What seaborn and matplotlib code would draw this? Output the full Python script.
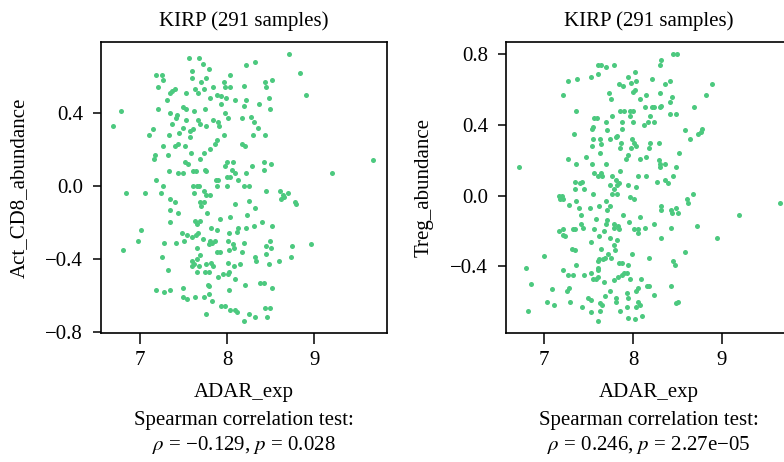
import numpy as np
import pandas as pd
import matplotlib
matplotlib.use("Agg")
import matplotlib.pyplot as plt
import seaborn as sns

# ---------------- data ----------------
cd8_x = [8.71, 7.56, 7.68, 7.72, 8.22, 8.32, 7.79, 8.84, 7.60, 7.19, 7.25, 8.03, 7.27, 7.60, 7.70,
         7.76, 7.97, 8.44, 8.52, 7.21, 7.63, 7.84, 7.98, 8.03, 8.19, 8.45, 7.37, 7.40, 7.35, 7.53,
         7.67, 7.73, 7.89, 7.93, 7.99, 7.81, 7.31, 8.09, 8.22, 8.48, 8.91, 7.93, 8.37, 8.20, 7.50,
         7.53, 7.62, 7.75, 7.21, 6.78, 8.49, 7.34, 7.43, 7.98, 7.41, 7.53, 7.67, 7.84, 7.90, 8.01,
         8.17, 8.28, 6.69, 7.37, 7.50, 7.69, 7.76, 7.91, 8.31, 8.36, 7.15, 7.57, 7.61, 7.10, 7.33,
         7.45, 7.58, 7.96, 8.30, 8.44, 7.89, 7.86, 8.17, 8.21, 7.26, 7.40, 7.44, 7.52, 7.80, 7.73,
         7.32, 7.17, 7.16, 7.59, 7.69, 8.00, 8.07, 8.43, 8.50, 9.68, 7.52, 7.55, 7.98, 8.29, 7.75,
         7.61, 7.64, 7.33, 7.44, 7.50, 7.76, 8.06, 8.09, 8.22, 8.43, 9.21, 8.00, 8.03, 8.13, 7.87,
         7.90, 7.18, 7.61, 7.65, 7.68, 7.89, 8.00, 8.19, 8.25, 7.26, 6.84, 7.06, 7.24, 7.62, 7.73,
         7.76, 7.80, 8.45, 8.61, 8.64, 8.70, 8.65, 8.62, 7.35, 7.40, 7.69, 7.73, 8.25, 8.78, 8.79,
         8.09, 7.70, 8.32, 7.35, 7.44, 7.77, 8.03, 8.23, 7.92, 7.63, 7.69, 8.40, 7.35, 7.66, 7.82,
         7.88, 8.13, 8.22, 8.31, 8.52, 7.01, 7.48, 7.67, 8.02, 7.54, 7.60, 7.64, 8.11, 6.98, 7.51,
         7.72, 7.81, 7.83, 7.86, 7.28, 7.41, 8.01, 8.07, 8.20, 8.49, 7.79, 7.65, 8.08, 8.45, 8.50,
         8.75, 8.96, 6.80, 7.88, 7.92, 8.02, 8.17, 8.45, 7.69, 7.65, 7.25, 8.32, 8.74, 7.60, 8.33,
         8.60, 7.62, 7.76, 7.82, 8.01, 8.48, 7.60, 7.68, 7.84, 8.08, 8.15, 7.32, 7.65, 7.75, 7.79,
         7.95, 8.02, 8.01, 7.90, 8.09, 8.38, 8.43, 8.21, 7.78, 7.79, 7.49, 7.19, 7.28, 7.34, 8.52,
         8.02, 7.79, 7.50, 7.54, 7.63, 7.73, 7.83, 7.93, 7.98, 8.44, 8.49, 8.03, 8.09, 8.11, 7.76,
         8.25, 8.46, 8.32, 8.19]
cd8_y = [0.72, 0.70, 0.70, 0.67, 0.66, 0.68, 0.64, 0.62, 0.63, 0.61, 0.61, 0.61, 0.58, 0.59, 0.57,
         0.59, 0.57, 0.57, 0.58, 0.54, 0.53, 0.54, 0.54, 0.54, 0.55, 0.54, 0.52, 0.53, 0.51, 0.51,
         0.51, 0.53, 0.50, 0.49, 0.48, 0.48, 0.47, 0.47, 0.47, 0.48, 0.50, 0.45, 0.45, 0.44, 0.43,
         0.42, 0.41, 0.42, 0.42, 0.41, 0.42, 0.40, 0.39, 0.40, 0.37, 0.36, 0.36, 0.36, 0.35, 0.37,
         0.37, 0.38, 0.33, 0.34, 0.32, 0.34, 0.33, 0.33, 0.35, 0.32, 0.31, 0.30, 0.31, 0.28, 0.28,
         0.29, 0.27, 0.28, 0.28, 0.28, 0.25, 0.23, 0.23, 0.22, 0.22, 0.22, 0.23, 0.22, 0.20, 0.18,
         0.17, 0.17, 0.15, 0.18, 0.15, 0.13, 0.13, 0.13, 0.12, 0.14, 0.13, 0.12, 0.11, 0.11, 0.09,
         0.08, 0.08, 0.08, 0.07, 0.07, 0.08, 0.09, 0.07, 0.07, 0.09, 0.07, 0.05, 0.05, 0.03, 0.03,
         0.03, 0.03, 0.00, 0.00, 0.00, 0.00, 0.00, 0.00, 0.00, 0.00, -0.04, -0.04, -0.04, -0.04, -0.03,
         -0.05, -0.05, -0.03, -0.03, -0.05, -0.04, -0.06, -0.07, -0.07, -0.09, -0.09, -0.09, -0.08, -0.09, -0.10,
         -0.10, -0.11, -0.12, -0.13, -0.15, -0.15, -0.17, -0.16, -0.18, -0.19, -0.19, -0.20, -0.20, -0.21, -0.23,
         -0.24, -0.23, -0.23, -0.22, -0.22, -0.24, -0.26, -0.26, -0.26, -0.27, -0.28, -0.27, -0.25, -0.30, -0.30,
         -0.29, -0.30, -0.31, -0.30, -0.31, -0.31, -0.30, -0.32, -0.31, -0.30, -0.32, -0.34, -0.34, -0.33, -0.34,
         -0.33, -0.32, -0.35, -0.36, -0.36, -0.35, -0.36, -0.37, -0.38, -0.40, -0.39, -0.39, -0.39, -0.41, -0.41,
         -0.41, -0.43, -0.43, -0.42, -0.42, -0.43, -0.44, -0.44, -0.44, -0.44, -0.43, -0.46, -0.47, -0.47, -0.47,
         -0.48, -0.47, -0.48, -0.50, -0.51, -0.53, -0.53, -0.54, -0.54, -0.55, -0.56, -0.57, -0.58, -0.57, -0.56,
         -0.57, -0.59, -0.61, -0.62, -0.61, -0.61, -0.63, -0.66, -0.66, -0.67, -0.67, -0.68, -0.68, -0.69, -0.70,
         -0.70, -0.72, -0.72, -0.74]

treg_x = [8.45, 8.49, 8.31, 8.30, 7.61, 7.64, 7.69, 7.79, 7.60, 8.02, 7.27, 7.37, 7.52, 7.94, 7.98,
          8.03, 8.21, 7.84, 7.89, 8.36, 8.42, 8.89, 7.21, 7.73, 7.75, 8.00, 8.02, 8.15, 8.30, 8.44,
          8.82, 8.08, 8.42, 7.36, 7.85, 7.90, 7.97, 8.00, 8.13, 8.21, 8.31, 8.30, 8.24, 8.69, 8.41,
          8.48, 7.56, 7.59, 7.76, 7.87, 7.97, 8.00, 8.17, 8.19, 8.23, 7.70, 8.12, 7.55, 7.54, 7.71,
          7.88, 8.59, 8.78, 8.76, 8.73, 7.33, 7.81, 7.74, 7.82, 7.55, 7.63, 7.99, 8.64, 7.86, 8.01,
          8.03, 8.19, 8.29, 7.54, 7.64, 7.85, 7.98, 8.18, 7.63, 7.47, 7.94, 7.92, 8.08, 8.52, 8.15,
          7.27, 8.29, 8.30, 7.36, 7.54, 7.70, 8.36, 6.71, 8.30, 7.56, 7.64, 7.85, 8.48, 7.61, 7.65,
          7.76, 8.06, 8.15, 8.45, 7.81, 8.36, 7.34, 7.42, 7.40, 7.74, 7.82, 7.84, 7.94, 8.27, 8.39,
          8.03, 7.34, 7.45, 7.79, 7.76, 7.82, 7.55, 8.68, 7.17, 7.20, 7.18, 7.21, 7.96, 8.01, 8.61,
          8.62, 9.66, 7.36, 7.69, 7.28, 7.62, 7.74, 8.31, 7.39, 7.51, 7.71, 8.31, 8.43, 8.48, 8.51,
          8.44, 9.19, 7.41, 7.58, 7.89, 8.08, 7.71, 7.95, 7.70, 7.78, 7.41, 8.23, 7.83, 8.72, 7.44,
          7.56, 7.78, 7.84, 8.01, 8.05, 8.13, 8.43, 7.16, 7.21, 7.32, 7.35, 7.21, 7.23, 7.67, 8.06,
          7.62, 7.74, 7.82, 8.94, 8.31, 7.53, 7.78, 7.64, 7.31, 7.34, 7.80, 8.59, 7.99, 8.18, 7.72,
          7.68, 7.00, 7.62, 7.66, 7.75, 7.61, 7.84, 7.87, 7.94, 8.45, 8.47, 7.36, 6.79, 7.60, 7.21,
          7.61, 7.27, 7.32, 7.45, 7.52, 7.55, 7.58, 7.61, 7.67, 7.83, 7.88, 7.90, 7.93, 7.97, 8.09,
          7.78, 6.85, 8.16, 8.18, 8.43, 7.09, 7.28, 7.25, 7.74, 8.06, 7.93, 8.03, 8.24, 7.68, 7.81,
          7.49, 7.52, 7.94, 7.03, 7.29, 7.63, 7.65, 8.06, 8.08, 8.48, 8.51, 7.11, 7.42, 7.81, 7.93,
          8.03, 7.53, 7.63, 6.82, 8.10, 7.94, 8.02, 7.61, 7.85]
treg_y = [0.80, 0.80, 0.77, 0.74, 0.74, 0.74, 0.73, 0.74, 0.69, 0.70, 0.65, 0.66, 0.67, 0.67, 0.64,
          0.65, 0.66, 0.63, 0.62, 0.63, 0.65, 0.63, 0.57, 0.58, 0.55, 0.59, 0.60, 0.57, 0.58, 0.56,
          0.57, 0.55, 0.53, 0.48, 0.48, 0.48, 0.48, 0.48, 0.50, 0.50, 0.51, 0.50, 0.50, 0.50, 0.46,
          0.46, 0.44, 0.44, 0.45, 0.42, 0.45, 0.42, 0.42, 0.45, 0.42, 0.42, 0.40, 0.39, 0.38, 0.37,
          0.38, 0.37, 0.38, 0.36, 0.35, 0.35, 0.33, 0.32, 0.34, 0.32, 0.32, 0.32, 0.32, 0.30, 0.30,
          0.28, 0.30, 0.30, 0.28, 0.29, 0.27, 0.27, 0.27, 0.24, 0.22, 0.23, 0.21, 0.21, 0.24, 0.22,
          0.21, 0.20, 0.18, 0.18, 0.18, 0.18, 0.18, 0.16, 0.16, 0.13, 0.13, 0.14, 0.16, 0.11, 0.11,
          0.11, 0.11, 0.11, 0.11, 0.09, 0.09, 0.08, 0.08, 0.07, 0.06, 0.06, 0.07, 0.06, 0.08, 0.07,
          0.05, 0.04, 0.04, 0.04, 0.01, 0.01, 0.01, 0.01, 0.00, 0.00, -0.02, -0.02, -0.01, -0.02, -0.02,
          -0.04, -0.04, -0.03, -0.03, -0.05, -0.06, -0.06, -0.06, -0.07, -0.07, -0.08, -0.08, -0.08, -0.07, -0.10,
          -0.10, -0.11, -0.11, -0.13, -0.11, -0.12, -0.14, -0.15, -0.16, -0.16, -0.16, -0.16, -0.17, -0.17, -0.18,
          -0.19, -0.18, -0.19, -0.19, -0.19, -0.18, -0.18, -0.20, -0.19, -0.19, -0.19, -0.22, -0.23, -0.20, -0.21,
          -0.23, -0.24, -0.25, -0.24, -0.24, -0.26, -0.28, -0.30, -0.30, -0.31, -0.31, -0.32, -0.33, -0.35, -0.33,
          -0.35, -0.34, -0.36, -0.36, -0.35, -0.37, -0.38, -0.38, -0.39, -0.37, -0.39, -0.39, -0.41, -0.41, -0.42,
          -0.42, -0.45, -0.45, -0.45, -0.44, -0.47, -0.47, -0.46, -0.49, -0.46, -0.45, -0.44, -0.44, -0.47, -0.47,
          -0.48, -0.50, -0.51, -0.51, -0.51, -0.53, -0.52, -0.54, -0.54, -0.52, -0.55, -0.54, -0.56, -0.57, -0.58,
          -0.58, -0.59, -0.58, -0.60, -0.60, -0.61, -0.62, -0.60, -0.62, -0.61, -0.60, -0.62, -0.63, -0.60, -0.63,
          -0.63, -0.66, -0.65, -0.65, -0.68, -0.69, -0.70, -0.71, -0.65]

titles = ["KIRP (291 samples)", "KIRP (291 samples)"]
x_label = "ADAR_exp"
y_labels = ["Act_CD8_abundance", "Treg_abundance"]
stat_lines = [r"$\rho$ = −0.129, $p$ = 0.028", r"$\rho$ = 0.246, $p$ = 2.27e−05"]
test_name = "Spearman correlation test:"
x_ticks = [7, 8, 9]
y_ticks_1 = [-0.8, -0.4, 0.0, 0.4]
y_ticks_2 = [-0.4, 0.0, 0.4, 0.8]

# ---------------- style ----------------
sns.set_theme(style="ticks")
plt.rcParams["font.family"] = ["Liberation Serif", "DejaVu Serif"]
plt.rcParams["mathtext.fontset"] = "stix"
plt.rcParams["axes.unicode_minus"] = True
point_color = "#4cc97f"
FS = 15

W, H = 784, 462
fig = plt.figure(figsize=(W / 100, H / 100), dpi=100)

def px_axes(left, top, right, bottom):
    return fig.add_axes([left / W, 1 - bottom / H, (right - left) / W, (bottom - top) / H])

ax1 = px_axes(101, 41.7, 387, 333.3)
ax2 = px_axes(506, 41.7, 792, 333.3)

df1 = pd.DataFrame({"x": cd8_x, "y": cd8_y})
df2 = pd.DataFrame({"x": treg_x, "y": treg_y})

specs = [
    (ax1, df1, y_labels[0], y_ticks_1, (6.553, 9.837), (-0.807, 0.79), stat_lines[0], 244),
    (ax2, df2, y_labels[1], y_ticks_2, (6.568, 9.79), (-0.779, 0.872), stat_lines[1], 649),
]

for ax, df, ylab, yt, xl, yl, stat, cx in specs:
    sns.scatterplot(data=df, x="x", y="y", ax=ax, color=point_color, s=13,
                    linewidth=0, alpha=1.0, legend=False)
    ax.set_xlim(*xl)
    ax.set_ylim(*yl)
    ax.set_xticks(x_ticks)
    ax.set_xticklabels([str(t) for t in x_ticks])
    ax.set_yticks(yt)
    ax.set_yticklabels([f"{t:.1f}".replace("-", "−") for t in yt])
    ax.tick_params(axis="both", labelsize=FS, width=1.1, color="black", labelcolor="black")
    ax.tick_params(axis="y", length=6, pad=7)
    ax.tick_params(axis="x", length=8, pad=5)
    for sp in ax.spines.values():
        sp.set_visible(True)
        sp.set_color("black")
        sp.set_linewidth(1.2)
    ax.set_title(titles[0], fontsize=FS, pad=11, color="black")
    ax.set_xlabel(x_label, fontsize=FS, labelpad=9, color="black")
    ax.set_ylabel(ylab, fontsize=FS, labelpad=12, color="black")
    fig.text(cx / W, 1 - 420 / H, test_name, ha="center", va="center", fontsize=FS, color="black")
    fig.text(cx / W, 1 - 445 / H, stat, ha="center", va="center", fontsize=FS, color="black")

fig.savefig("out.png", dpi=100, facecolor="white")
